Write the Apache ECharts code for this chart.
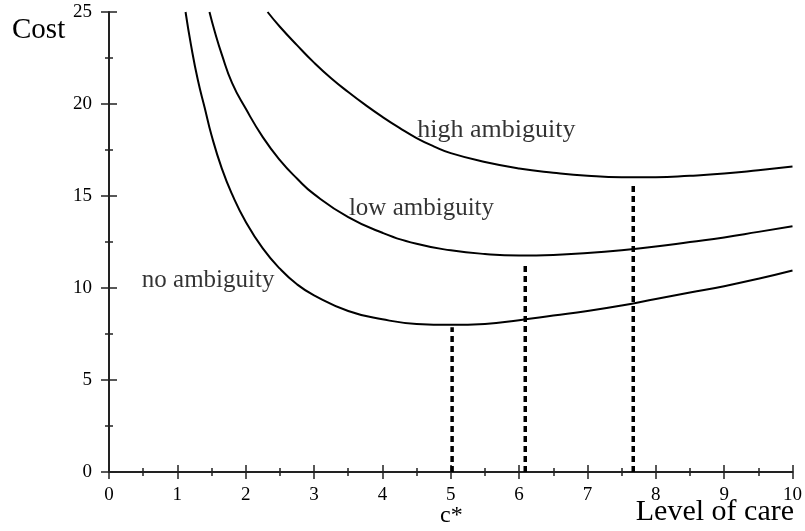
<!DOCTYPE html>
<html lang="en">
<head>
    <meta charset="UTF-8"/>
    <title>cost vs level of care</title>
    <script src="https://cdn.jsdelivr.net/npm/echarts@6/dist/echarts.min.js"></script>
    <style>
        html, body { margin: 0; padding: 0; background: #fff; }
    </style>
</head>
<body>

<div id="main" style="width: 805px;height:531px;"></div>

<script type="text/javascript">
    // curves: [level of care, cost]
    var noAmbiguity = [[1.12, 25], [1.2, 23.2], [1.3, 21.3], [1.4, 19.8], [1.5, 18.3], [1.65, 16.5],
        [1.8, 15.1], [2.0, 13.6], [2.25, 12.15], [2.5, 11.05], [2.75, 10.2], [3.0, 9.6], [3.5, 8.75],
        [4.0, 8.3], [4.5, 8.05], [5.0, 8.0], [5.5, 8.05], [6.0, 8.25], [6.5, 8.5], [7.0, 8.75],
        [7.5, 9.05], [8.0, 9.4], [8.5, 9.75], [9.0, 10.1], [9.5, 10.5], [10, 10.95]];
    var lowAmbiguity = [[1.47, 25], [1.55, 23.9], [1.65, 22.7], [1.8, 21.15], [2.0, 19.75], [2.25, 18.2],
        [2.5, 16.95], [2.75, 15.95], [3.0, 15.1], [3.5, 13.85], [4.0, 13.0], [4.5, 12.4], [5.0, 12.05],
        [5.5, 11.85], [6.0, 11.77], [6.5, 11.8], [7.0, 11.9], [7.5, 12.05], [8.0, 12.25], [8.5, 12.5],
        [9.0, 12.75], [9.5, 13.05], [10, 13.35]];
    var highAmbiguity = [[2.32, 25], [2.5, 24.2], [2.75, 23.2], [3.0, 22.25], [3.25, 21.4], [3.5, 20.65],
        [3.75, 19.95], [4.0, 19.3], [4.25, 18.7], [4.5, 18.15], [4.75, 17.7], [5.0, 17.33], [5.5, 16.85],
        [6.0, 16.5], [6.5, 16.27], [7.0, 16.1], [7.5, 16.02], [8.0, 16.02], [8.5, 16.1], [9.0, 16.22],
        [9.5, 16.4], [10, 16.6]];

    // optimal care levels (x) and the height the dotted drop lines reach
    var optimumX = [5.02, 6.09, 7.67];
    var optimumTop = [7.87, 11.41, 15.76];

    // curve labels: [x, y, text]
    var curveLabels = [[0.48, 10.4, 'no ambiguity'], [3.51, 14.3, 'low ambiguity'], [4.51, 18.57, 'high ambiguity']];

    var xTicks = [0, 1, 2, 3, 4, 5, 6, 7, 8, 9, 10];
    var yTicks = [0, 5, 10, 15, 20, 25];

    var serif = 'Liberation Serif';
    var ink = '#000';
    var axisInk = '#222';

    var myChart = echarts.init(document.getElementById('main'));

    var series = [];
    [noAmbiguity, lowAmbiguity, highAmbiguity].forEach(function (curve) {
        series.push({
            type: 'line',
            data: curve,
            smooth: 0.5,
            symbol: 'none',
            clip: true,
            lineStyle: { color: ink, width: 2 }
        });
    });
    optimumX.forEach(function (x, i) {
        series.push({
            type: 'line',
            data: [[x, 0], [x, optimumTop[i]]],
            symbol: 'none',
            lineStyle: { color: ink, width: 3.5, type: [6, 4] }
        });
    });
    series.push({
        type: 'scatter',
        symbolSize: 0,
        data: curveLabels.map(function (d, i) {
            return { value: d, label: { fontSize: i === 2 ? 26 : 25 } };
        }),
        label: {
            show: true,
            position: 'right',
            distance: 0,
            formatter: function (p) { return p.value[2]; },
            fontFamily: serif,
            color: ink
        },
        silent: true
    });

    var option = {
        animation: false,
        grid: { left: 109, right: 11, top: 12, bottom: 59 },
        xAxis: [{
            type: 'value', min: xTicks[0], max: xTicks[xTicks.length - 1], interval: 1,
            axisLine: { lineStyle: { color: axisInk, width: 2 } },
            axisTick: { show: true, length: 7, lineStyle: { color: axisInk, width: 1.5 } },
            minorTick: { show: true, splitNumber: 2, length: 4, lineStyle: { color: axisInk, width: 1.5 } },
            axisLabel: { fontFamily: serif, fontSize: 19, color: ink, margin: 14 },
            splitLine: { show: false }
        }, {
            type: 'value', min: xTicks[0], max: xTicks[xTicks.length - 1], interval: 1, position: 'bottom',
            axisLine: { show: false },
            axisTick: { show: true, inside: true, length: 7, lineStyle: { color: axisInk, width: 1.5 } },
            minorTick: { show: true, splitNumber: 2, length: 4, lineStyle: { color: axisInk, width: 1.5 } },
            axisLabel: { show: false },
            splitLine: { show: false }
        }],
        yAxis: [{
            type: 'value', min: yTicks[0], max: yTicks[yTicks.length - 1], interval: 5,
            axisLine: { show: true, lineStyle: { color: axisInk, width: 2 } },
            axisTick: { show: true, length: 8, lineStyle: { color: axisInk, width: 1.5 } },
            minorTick: { show: true, splitNumber: 2, length: 4, lineStyle: { color: axisInk, width: 1.5 } },
            axisLabel: { fontFamily: serif, fontSize: 19, color: ink, margin: 17, padding: [7, 0, 0, 0] },
            splitLine: { show: false }
        }, {
            type: 'value', min: yTicks[0], max: yTicks[yTicks.length - 1], interval: 5, position: 'left',
            axisLine: { show: false },
            axisTick: { show: true, inside: true, length: 8, lineStyle: { color: axisInk, width: 1.5 } },
            minorTick: { show: true, splitNumber: 2, length: 4, lineStyle: { color: axisInk, width: 1.5 } },
            axisLabel: { show: false },
            splitLine: { show: false }
        }],
        graphic: [
            { type: 'text', left: 12, top: 16, style: { text: 'Cost', font: '29px "Liberation Serif"', fill: ink } },
            { type: 'text', right: 11, top: 497, style: { text: 'Level of care', font: '30px "Liberation Serif"', fill: ink } },
            { type: 'text', left: 440, top: 504, style: { text: 'c*', font: '24px "Liberation Serif"', fill: ink } }
        ],
        series: series
    };

    myChart.setOption(option);
</script>
</body>
</html>
